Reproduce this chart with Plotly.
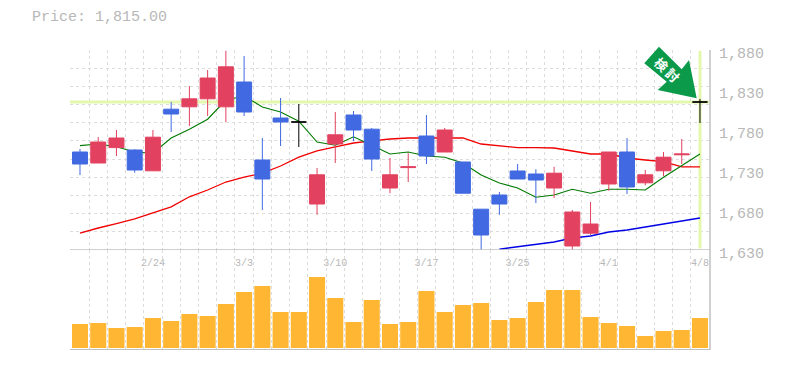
import plotly.graph_objects as go

dates = ["2/18","2/19","2/20","2/21","2/24","2/25","2/26","2/27","2/28","3/3","3/4","3/5","3/6","3/7","3/10","3/11","3/12","3/13","3/14","3/17","3/18","3/19","3/21","3/24","3/25","3/26","3/27","3/28","3/31","4/1","4/2","4/3","4/4","4/7","4/8"]
tick_labels = ["2/24","3/3","3/10","3/17","3/25","4/1","4/8"]
last_price = 1815
price_ticks = [1630,1680,1730,1780,1830,1880]

opens  = [1752.5,1738.75,1758,1755,1729,1806,1809,1819,1809,1840,1742.5,1795,None,1687.5,1762.5,1798.75,1781,1707.5,1733,1772.5,1752.5,1740,1681,1698.75,1728.75,1725,1707.5,1635,1651,1712.5,1752.5,1714,1729,1749,None]
highs  = [1756.25,1771.25,1780,1756,1780,1815,1835,1855,1879,1872.5,1770,1820,None,1732.5,1802.5,1803.75,1782.5,1745,1751,1798.75,1782.5,1740,1681,1702.5,1737.5,1731,1734,1680,1690,1752.5,1770,1730,1752.5,1768.75,None]
lows   = [1723.75,1738.75,1747.5,1726.6,1729,1777.5,1785,1797.5,1790,1797.5,1680,1760,None,1674,1738.75,1766,1728.75,1701,1715,1737.5,1752.5,1701,1629,1674,1718.75,1688.75,1695,1629,1648.75,1704,1700,1711,1722.5,1737.5,None]
closes = [1737.5,1765,1770,1730,1771,1800,1819,1845,1859,1802.5,1718.75,1790,None,1724,1774,1780,1743.75,1724,1734,1747.5,1780,1701,1648.75,1687.5,1718.75,1717.5,1726,1677.5,1662.5,1752.5,1708.75,1724,1746,1750,None]

doji_open  = [None]*12 + [1790] + [None]*21 + [1815]
doji_high  = [None]*12 + [1812.5] + [None]*21 + [1818.75]
doji_low   = [None]*12 + [1758.75] + [None]*21 + [1788.75]
doji_close = [None]*12 + [1790] + [None]*21 + [1815]

ma_short = [1760.5,1762.5,1759,1752.5,1751,1770,1781,1793.5,1817.5,1822.5,1808.75,1802.5,1791,1765,1761,1771.5,1761,1750,1752.5,1747.5,1746,1738.75,1723.75,1713.75,1707.5,1696,1698.75,1706,1701,1706,1706,1705,1721,1736,1750]
ma_mid   = [1651,1657.5,1663,1669,1676.5,1684,1696.5,1705,1715,1721,1726,1735,1746,1754,1759,1763.75,1766.5,1768.75,1770,1770,1770,1770,1762.5,1760,1758,1758,1757.5,1753.75,1750,1750,1745,1742.5,1740.5,1734,1734]
ma_long  = [None]*23 + [1631,1634,1637,1640,1645,1647.5,1652.5,1655,1658.75,1662.5,1666,1670]

volume = [24,25,20,21,30,27,34,32,44,56,62,36,36,71,50,26,48,24,26,57,36,43,45,28,30,46,58,58,31,25,22,12,17,18,30]

xs = list(range(len(dates)))
tick_pos = [dates.index(d) for d in tick_labels]
boundaries = [i - 0.5 for i in range(len(dates) + 1)]
h_grid = [1630 + k * 250 / 11 for k in range(12)]

RED = "#e2425f"
BLUE = "#4169e1"
GRID = "#dcdcdc"
AXIS = "#c0c0c0"
TEXT = "#b8b8b8"
BAND = "#e4f7ae"
X_RANGE = [-0.548, 34.55]
Y_RANGE = [1630, 1880]


def px_x(px):
    return (px - 70) / 640


def px_y(py):
    return 1 - (py - 50) / 300


arrow_outline = [(644.3, 63.3), (659, 46.7), (681.7, 69.3), (689, 60), (696.7, 98.3), (657.7, 90), (666.7, 81.7)]
arrow_path = "M " + " L ".join(f"{px_x(a):.4f} {px_y(b):.4f}" for a, b in arrow_outline) + " Z"

fig = go.Figure()

# current price guides
fig.add_trace(go.Scatter(x=[X_RANGE[0], 34.5], y=[last_price, last_price], mode="lines",
                         line=dict(color=BAND, width=3), xaxis="x", yaxis="y", hoverinfo="skip"))
fig.add_trace(go.Scatter(x=[34, 34], y=[1632, 1879], mode="lines",
                         line=dict(color=BAND, width=3), xaxis="x", yaxis="y", hoverinfo="skip"))

# moving averages
for vals, col, w in [(ma_long, "#0000e6", 1.4), (ma_mid, "#f00000", 1.3), (ma_short, "#007a00", 1.1)]:
    fig.add_trace(go.Scatter(x=xs, y=vals, mode="lines", line=dict(color=col, width=w),
                             connectgaps=False, xaxis="x", yaxis="y", hoverinfo="skip"))

# candles sit on overlaying axes so they paint above the lines
fig.add_trace(go.Candlestick(x=xs, open=opens, high=highs, low=lows, close=closes,
                             increasing=dict(line=dict(color=RED, width=1), fillcolor=RED),
                             decreasing=dict(line=dict(color=BLUE, width=1), fillcolor=BLUE),
                             whiskerwidth=0, xaxis="x3", yaxis="y3"))
fig.add_trace(go.Candlestick(x=xs, open=doji_open, high=doji_high, low=doji_low, close=doji_close,
                             increasing=dict(line=dict(color="#000000", width=1), fillcolor="#000000"),
                             decreasing=dict(line=dict(color="#000000", width=1), fillcolor="#000000"),
                             whiskerwidth=0, xaxis="x3", yaxis="y3"))

# volume
fig.add_trace(go.Bar(x=xs, y=volume, marker=dict(color="#ffb733", line=dict(width=0)),
                     xaxis="x2", yaxis="y2"))


def x_axis(**kw):
    return dict(range=X_RANGE, fixedrange=True, showgrid=False, zeroline=False, showline=False,
                ticks="", automargin=False, rangeslider=dict(visible=False),
                minor=dict(tickmode="array", tickvals=boundaries, showgrid=True,
                           gridcolor=GRID, griddash="3px,3px", gridwidth=1, ticks=""), **kw)


fig.update_layout(
    width=785, height=370, autosize=False, showlegend=False,
    margin=dict(l=70, r=75, t=50, b=20, pad=0),
    paper_bgcolor="white", plot_bgcolor="white",
    bargap=0.12, boxgap=0.18, boxgroupgap=0,
    xaxis=x_axis(anchor="y", tickmode="array", tickvals=tick_pos, ticktext=tick_labels,
                 showticklabels=True, ticklabelposition="outside", ticklabelstandoff=5,
                 tickfont=dict(family="Liberation Mono", size=10, color=TEXT)),
    xaxis2=x_axis(anchor="y2", showticklabels=False),
    xaxis3=dict(overlaying="x", anchor="y3", range=X_RANGE, visible=False, fixedrange=True,
                automargin=False, rangeslider=dict(visible=False)),
    yaxis=dict(domain=[1/3, 1], range=Y_RANGE, side="right", anchor="x", fixedrange=True,
               tickmode="array", tickvals=price_ticks, ticktext=[f"{v:,}" for v in price_ticks],
               tickfont=dict(family="Liberation Mono", size=15, color=TEXT),
               showgrid=False, zeroline=False, showline=False, ticks="", automargin=False,
               ticklabelstandoff=8, ticklabelshift=3,
               minor=dict(tickmode="array", tickvals=h_grid, showgrid=True, gridcolor=GRID,
                          griddash="3px,3px", gridwidth=1, ticks="")),
    yaxis2=dict(domain=[0, 1/3], range=[-2, 98], side="right", anchor="x2", fixedrange=True, automargin=False,
                showticklabels=False, showgrid=False, zeroline=False, showline=False, ticks=""),
    yaxis3=dict(overlaying="y", anchor="x3", range=Y_RANGE, visible=False, fixedrange=True, automargin=False),
    shapes=[
        dict(type="line", xref="paper", yref="y", x0=0, x1=1, y0=1630, y1=1630, line=dict(color=AXIS, width=1.5)),
        dict(type="line", xref="paper", yref="y2", x0=0, x1=1, y0=-2, y1=-2, line=dict(color=AXIS, width=2)),
        dict(type="line", xref="paper", yref="paper", x0=1, x1=1, y0=1/3, y1=1, line=dict(color=AXIS, width=1.5)),
        dict(type="line", xref="paper", yref="paper", x0=1, x1=1, y0=0, y1=1/3, line=dict(color=AXIS, width=1.5)),
        dict(type="path", xref="paper", yref="paper", fillcolor="#0a9a4a", line=dict(width=0), path=arrow_path),
    ],
    annotations=[
        dict(text="Price: 1,815.00", xref="paper", yref="paper", x=px_x(30), y=px_y(18),
             xanchor="left", yanchor="middle", showarrow=False,
             font=dict(family="Liberation Mono", size=15, color=TEXT)),
        dict(text="<b>検\u2009討</b>", xref="paper", yref="paper", x=px_x(667), y=px_y(69.5),
             xanchor="center", yanchor="middle", showarrow=False, textangle=44,
             font=dict(family="Noto Sans CJK JP", size=13, color="white")),
    ],
)

fig.write_html("out.html", config={"displayModeBar": False}, post_script="document.body.style.margin='0';")
